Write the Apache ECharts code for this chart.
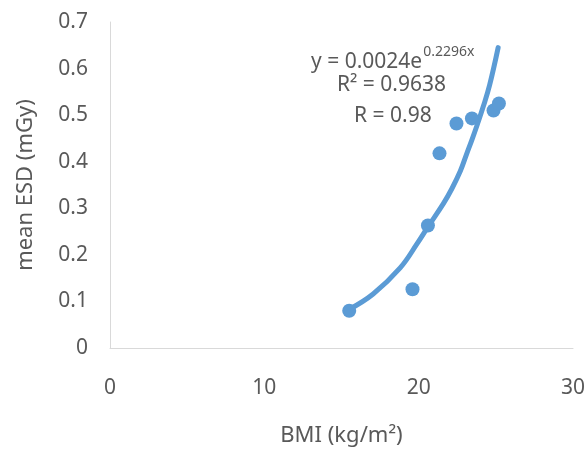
<!DOCTYPE html>
<html>
<head>
<meta charset="utf-8">
<script src="https://cdn.jsdelivr.net/npm/echarts@6/dist/echarts.min.js"></script>
<style>
  html, body { margin: 0; padding: 0; background: #fff; }
  #chart { width: 587px; height: 452px; }
</style>
</head>
<body>
<div id="chart"></div>
<script>
// measured points (BMI, mean ESD)
const bmi = [15.5, 19.6, 20.6, 21.35, 22.45, 23.45, 24.85, 25.2];
const esd = [0.08, 0.126, 0.263, 0.418, 0.482, 0.493, 0.51, 0.525];

// exponential trendline
const trendX = [15.45, 17.05, 18.8, 19.9, 20.6, 21.6, 22.15, 22.7, 23.1, 23.45, 23.8, 24.2, 24.6, 25.15];
const trendY = [0.082, 0.116, 0.172, 0.224, 0.26, 0.31, 0.342, 0.38, 0.416, 0.447, 0.48, 0.52, 0.565, 0.645];

const xTicks = [0, 10, 20, 30];
const yTicks = [0, 0.1, 0.2, 0.3, 0.4, 0.5, 0.6, 0.7];

const FONT = '"Noto Sans", sans-serif';
const TXT = '#595959';
const BLUE = '#5b9bd5';

const chart = echarts.init(document.getElementById('chart'));

const option = {
  animation: false,
  grid: {
    left: 110,
    right: 14,
    top: 22,
    bottom: 104,
    outerBoundsMode: 'none',
  },
  xAxis: {
    type: 'value',
    min: xTicks[0],
    max: xTicks[xTicks.length - 1],
    interval: 10,
    name: 'BMI (kg/m²)',
    nameLocation: 'middle',
    nameGap: 77,
    nameTextStyle: { color: TXT, fontSize: 22, fontFamily: FONT },
    axisLine: { lineStyle: { color: '#d9d9d9', width: 1 } },
    axisTick: { show: false },
    splitLine: { show: false },
    axisLabel: { color: TXT, fontSize: 21, fontFamily: FONT, margin: 30 },
  },
  yAxis: {
    type: 'value',
    min: yTicks[0],
    max: yTicks[yTicks.length - 1],
    interval: 0.1,
    name: 'mean ESD (mGy)',
    nameLocation: 'middle',
    nameGap: 73,
    nameRotate: 90,
    nameTextStyle: { color: TXT, fontSize: 22, fontFamily: FONT },
    axisLine: { show: true, lineStyle: { color: '#d9d9d9', width: 1 } },
    axisTick: { show: false },
    splitLine: { show: false },
    axisLabel: { color: TXT, fontSize: 21, fontFamily: FONT, margin: 22 },
  },
  series: [
    {
      name: 'trend',
      type: 'line',
      smooth: 0.4,
      showSymbol: false,
      data: trendX.map((x, i) => [x, trendY[i]]),
      lineStyle: { color: BLUE, width: 5, cap: 'round', join: 'round' },
      z: 2,
    },
    {
      name: 'ESD',
      type: 'scatter',
      symbolSize: 14,
      data: bmi.map((x, i) => [x, esd[i]]),
      itemStyle: { color: BLUE, opacity: 1 },
      z: 3,
    },
  ],
  graphic: [
    {
      type: 'text',
      left: 311,
      top: 45,
      style: {
        text: '{a|y = 0.0024e}{b|0.2296x}',
        rich: {
          a: { fill: TXT, fontSize: 21, fontFamily: FONT, lineHeight: 28, verticalAlign: 'bottom' },
          b: { fill: TXT, fontSize: 14, fontFamily: FONT, lineHeight: 28, verticalAlign: 'top', padding: [0, 0, 0, 1] },
        },
      },
    },
    {
      type: 'text',
      left: 337,
      top: 75,
      style: { text: 'R² = 0.9638', fill: TXT, font: '21px ' + FONT },
    },
    {
      type: 'text',
      left: 354,
      top: 106,
      style: { text: 'R = 0.98', fill: TXT, font: '21px ' + FONT },
    },
  ],
};

chart.setOption(option);
</script>
</body>
</html>
